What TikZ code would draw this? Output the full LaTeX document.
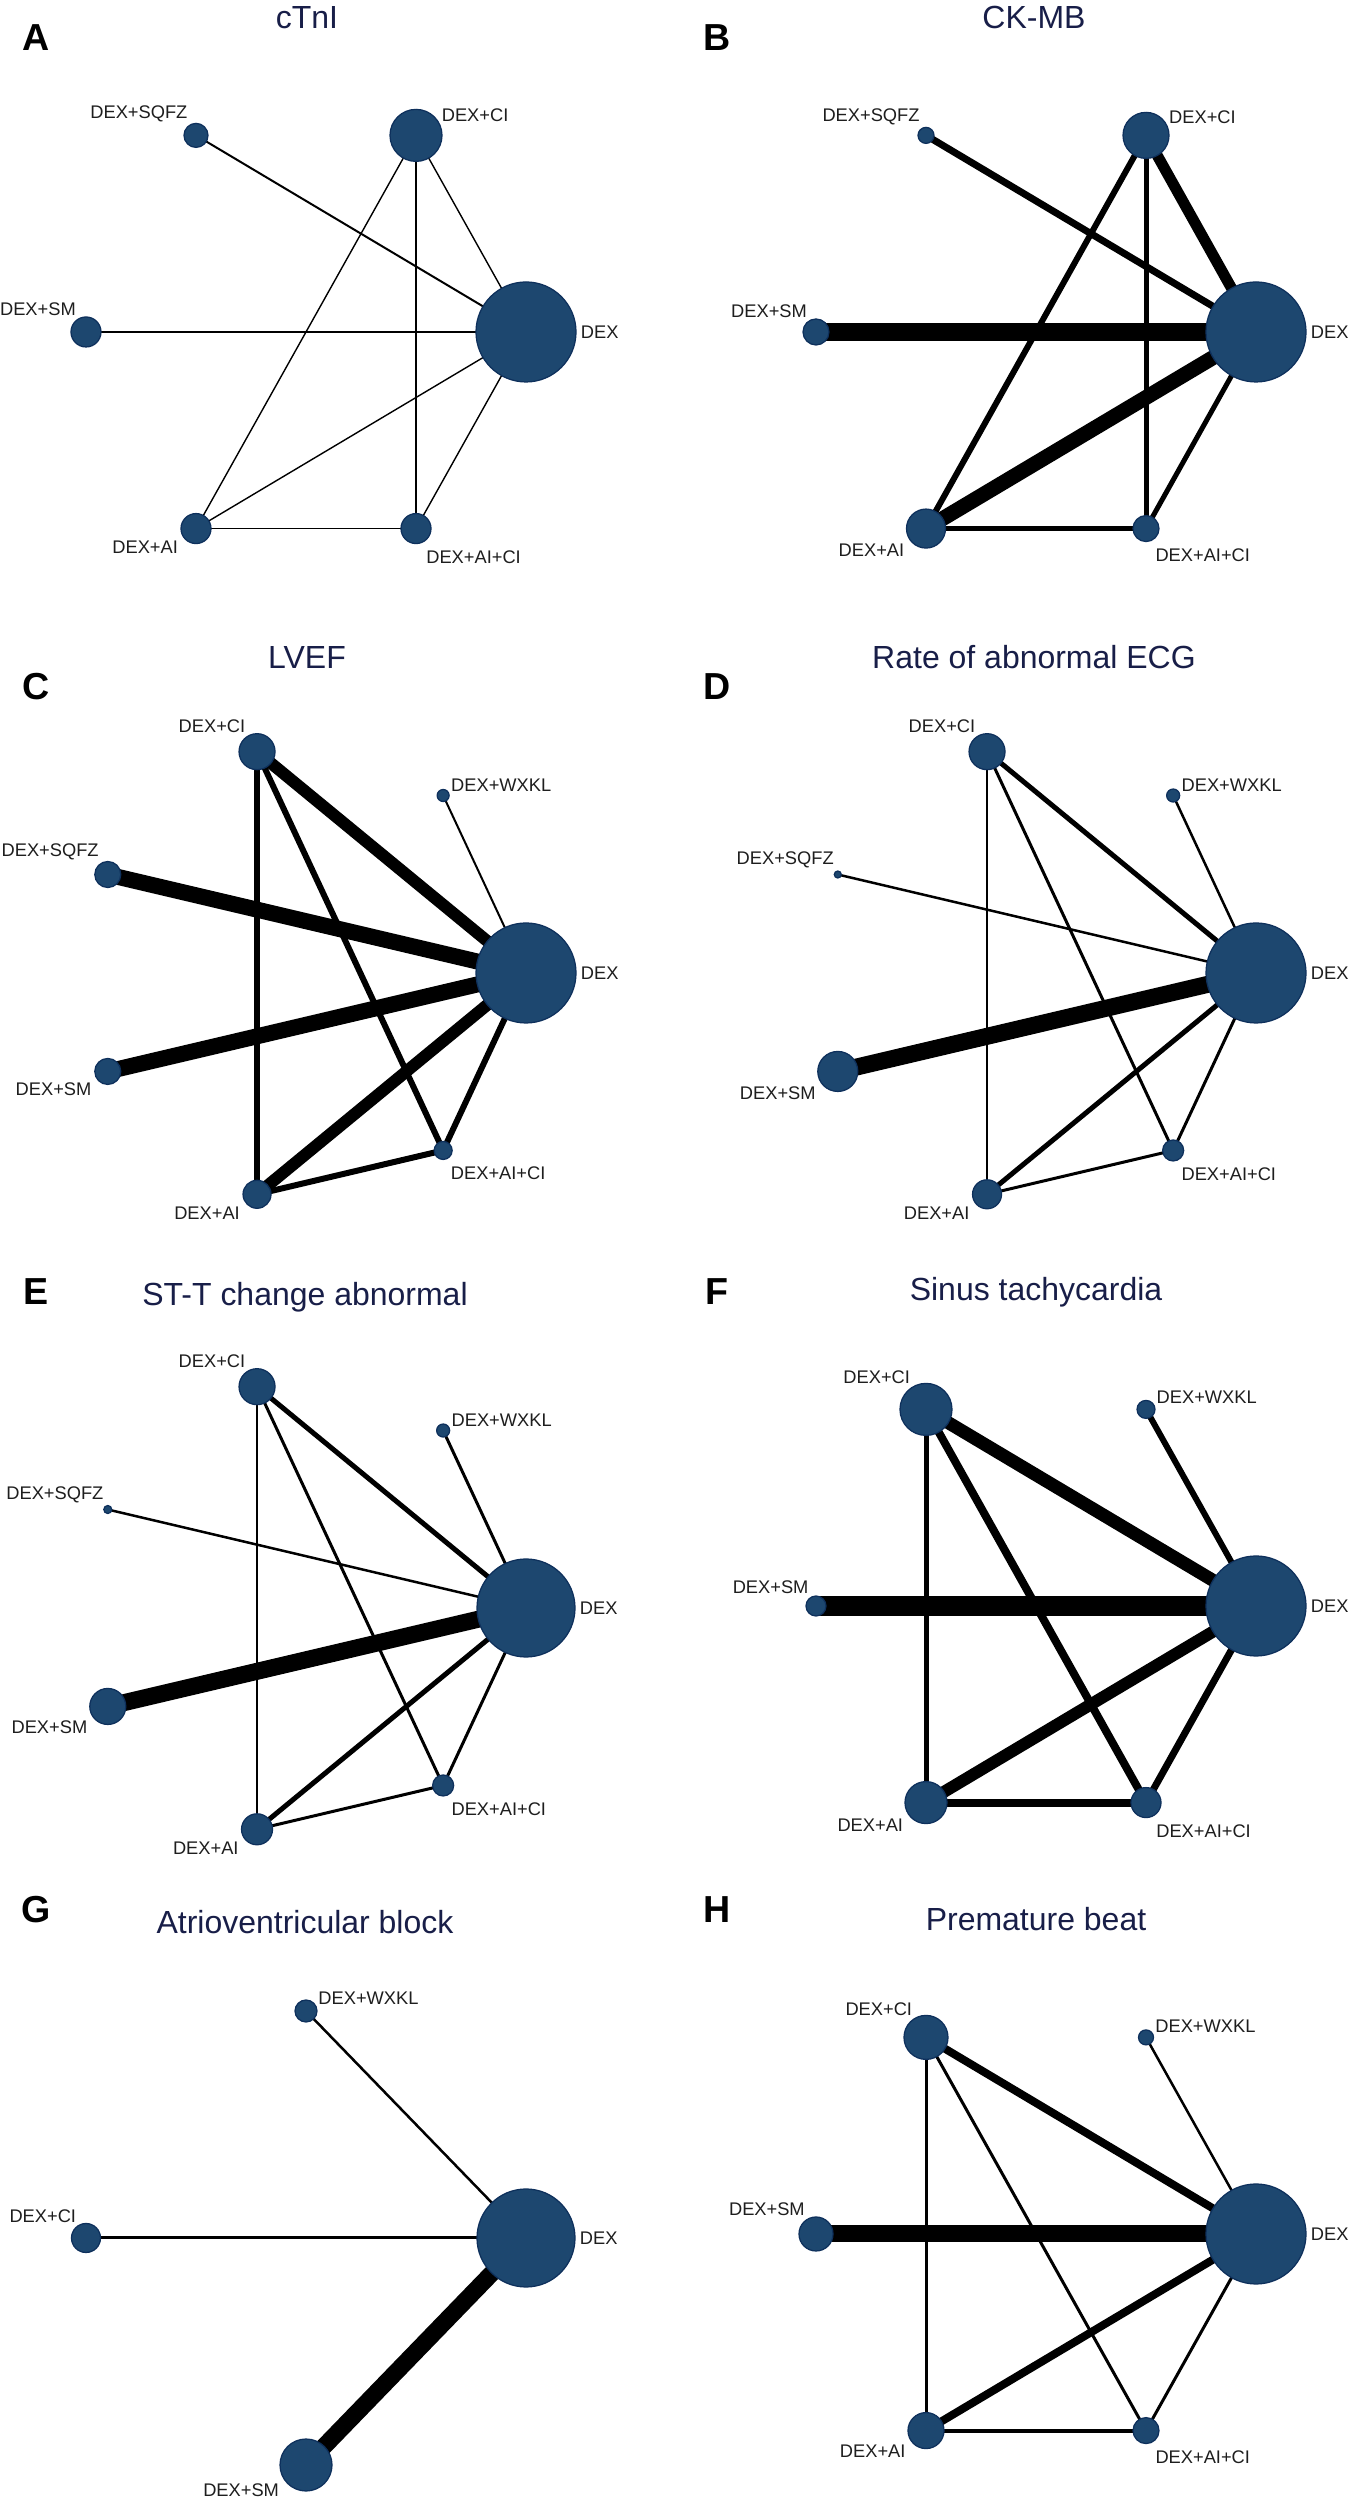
\documentclass[tikz,border=0pt]{standalone}
\usepackage{fontspec}
\setmainfont{Liberation Sans}
\usetikzlibrary{backgrounds}
\definecolor{nodefill}{RGB}{29,71,111}
\definecolor{nodeline}{RGB}{14,48,92}
\definecolor{titleblue}{RGB}{24,30,72}
\definecolor{labeltext}{RGB}{30,30,30}

\begin{document}
\begin{tikzpicture}[x=0.2mm,y=0.2mm,
	trt/.style={circle,fill=nodefill,draw=nodeline,line width=0.25mm,inner sep=0pt,minimum size=#1*0.4mm},
	lbl/.style={font=\fontsize{10.4}{12}\selectfont,text=labeltext,inner sep=0pt},
	tagE/.style={label={[lbl,anchor=west,label distance=0.8mm]0:#1}},
	tagNE/.style={label={[lbl,anchor=south west,label distance=0.4mm]27:#1}},
	tagNW/.style={label={[lbl,anchor=south east,label distance=0.6mm]122:#1}},
	tagSW/.style={label={[lbl,anchor=north east,label distance=1.2mm]215:#1}},
	tagSE/.style={label={[lbl,anchor=north west,label distance=1.6mm]295:#1}},
	ttl/.style={font=\fontsize{18.2}{22}\selectfont,text=titleblue,anchor=base},
	panel/.style={font=\fontsize{21.4}{25}\selectfont\bfseries,anchor=base},
	lw/.style={line width=#1*0.2mm},
	ring/.style={x=44mm,y=45.4mm}]
	\useasboundingbox (0,0) rectangle (1349,2500);

	% A: cTnI
	\node[panel] (lA) at (36,2449.5) {A};
	\node[ttl] (tA) at (307,2471) {cTnI};
	\begin{scope}[shift={(306,2168)},ring]
		\node[trt=50,tagE=DEX] (aDEX) at (0:1) {};
		\node[trt=26,tagNE=DEX+CI] (aCI) at (60:1) {};
		\node[trt=12,tagNW=DEX+SQFZ] (aSQFZ) at (120:1) {};
		\node[trt=15,tagNW=DEX+SM] (aSM) at (180:1) {};
		\node[trt=15,tagSW=DEX+AI] (aAI) at (240:1) {};
		\node[trt=15,tagSE=DEX+AI+CI] (aAICI) at (300:1) {};
	\end{scope}

	% B: CK-MB
	\node[panel] (lB) at (717,2449.5) {B};
	\node[ttl] (tB) at (1034,2471) {CK-MB};
	\begin{scope}[shift={(1036,2168)},ring]
		\node[trt=50,tagE=DEX] (bDEX) at (0:1) {};
		\node[trt=23,tagNE=DEX+CI] (bCI) at (60:1) {};
		\node[trt=8,tagNW=DEX+SQFZ] (bSQFZ) at (120:1) {};
		\node[trt=13,tagNW=DEX+SM] (bSM) at (180:1) {};
		\node[trt=19.5,tagSW=DEX+AI] (bAI) at (240:1) {};
		\node[trt=13,tagSE=DEX+AI+CI] (bAICI) at (300:1) {};
	\end{scope}

	% C: LVEF
	\node[panel] (lC) at (36,1800.5) {C};
	\node[ttl] (tC) at (307,1831) {LVEF};
	\begin{scope}[shift={(306,1527)},ring]
		\node[trt=50,tagE=DEX] (cDEX) at (0:1) {};
		\node[trt=6,tagNE=DEX+WXKL] (cWXKL) at (51.43:1) {};
		\node[trt=18,tagNW=DEX+CI] (cCI) at (102.86:1) {};
		\node[trt=13,tagNW=DEX+SQFZ] (cSQFZ) at (154.29:1) {};
		\node[trt=13,tagSW=DEX+SM] (cSM) at (205.71:1) {};
		\node[trt=14,tagSW=DEX+AI] (cAI) at (257.14:1) {};
		\node[trt=9,tagSE=DEX+AI+CI] (cAICI) at (308.57:1) {};
	\end{scope}

	% D: abnormal ECG
	\node[panel] (lD) at (717,1800.5) {D};
	\node[ttl] (tD) at (1034,1831) {Rate of abnormal ECG};
	\begin{scope}[shift={(1036,1527)},ring]
		\node[trt=50,tagE=DEX] (dDEX) at (0:1) {};
		\node[trt=6.5,tagNE=DEX+WXKL] (dWXKL) at (51.43:1) {};
		\node[trt=18,tagNW=DEX+CI] (dCI) at (102.86:1) {};
		\node[trt=3.5,tagNW=DEX+SQFZ] (dSQFZ) at (154.29:1) {};
		\node[trt=20,tagSW=DEX+SM] (dSM) at (205.71:1) {};
		\node[trt=14.5,tagSW=DEX+AI] (dAI) at (257.14:1) {};
		\node[trt=10.5,tagSE=DEX+AI+CI] (dAICI) at (308.57:1) {};
	\end{scope}

	% E: ST-T change
	\node[panel] (lE) at (36,1195.5) {E};
	\node[ttl] (tE) at (305,1194) {ST-T change abnormal};
	\begin{scope}[shift={(306,892)},ring]
		\node[trt=49,tagE=DEX] (eDEX) at (0:1) {};
		\node[trt=6.5,tagNE=DEX+WXKL] (eWXKL) at (51.43:1) {};
		\node[trt=18,tagNW=DEX+CI] (eCI) at (102.86:1) {};
		\node[trt=4,tagNW=DEX+SQFZ] (eSQFZ) at (154.29:1) {};
		\node[trt=18,tagSW=DEX+SM] (eSM) at (205.71:1) {};
		\node[trt=15.5,tagSW=DEX+AI] (eAI) at (257.14:1) {};
		\node[trt=10.5,tagSE=DEX+AI+CI] (eAICI) at (308.57:1) {};
	\end{scope}

	% F: sinus tachycardia
	\node[panel] (lF) at (717,1195.5) {F};
	\node[ttl] (tF) at (1036,1199) {Sinus tachycardia};
	\begin{scope}[shift={(1036,894)},ring]
		\node[trt=50,tagE=DEX] (fDEX) at (0:1) {};
		\node[trt=9,tagNE=DEX+WXKL] (fWXKL) at (60:1) {};
		\node[trt=26,tagNW=DEX+CI] (fCI) at (120:1) {};
		\node[trt=10,tagNW=DEX+SM] (fSM) at (180:1) {};
		\node[trt=21,tagSW=DEX+AI] (fAI) at (240:1) {};
		\node[trt=15,tagSE=DEX+AI+CI] (fAICI) at (300:1) {};
	\end{scope}

	% G: AV block
	\node[panel] (lG) at (36,577.5) {G};
	\node[ttl] (tG) at (305,566) {Atrioventricular block};
	\begin{scope}[shift={(306,262)},ring]
		\node[trt=49,tagE=DEX] (gDEX) at (0:1) {};
		\node[trt=11,tagNE=DEX+WXKL] (gWXKL) at (90:1) {};
		\node[trt=14.5,tagNW=DEX+CI] (gCI) at (180:1) {};
		\node[trt=26,tagSW=DEX+SM] (gSM) at (270:1) {};
	\end{scope}

	% H: premature beat
	\node[panel] (lH) at (717,577.5) {H};
	\node[ttl] (tH) at (1036,569) {Premature beat};
	\begin{scope}[shift={(1036,266)},ring]
		\node[trt=50,tagE=DEX] (hDEX) at (0:1) {};
		\node[trt=7.5,tagNE=DEX+WXKL] (hWXKL) at (60:1) {};
		\node[trt=22,tagNW=DEX+CI] (hCI) at (120:1) {};
		\node[trt=17,tagNW=DEX+SM] (hSM) at (180:1) {};
		\node[trt=18,tagSW=DEX+AI] (hAI) at (240:1) {};
		\node[trt=13,tagSE=DEX+AI+CI] (hAICI) at (300:1) {};
	\end{scope}

	% comparisons, under the nodes
	\begin{scope}[on background layer]
		\fill[white] (0,0) rectangle (1349,2500);
		\path
			(aSQFZ.center) edge[lw=2] (aDEX.center)
			(aCI.center) edge[lw=1.4] (aDEX.center)
			(aCI.center) edge[lw=1.4] (aAI.center)
			(aCI.center) edge[lw=1.4] (aAICI.center)
			(aSM.center) edge[lw=1.4] (aDEX.center)
			(aAI.center) edge[lw=1.4] (aDEX.center)
			(aAI.center) edge[lw=1.4] (aAICI.center)
			(aAICI.center) edge[lw=1.4] (aDEX.center);
		\path
			(bSQFZ.center) edge[lw=7] (bDEX.center)
			(bCI.center) edge[lw=11] (bDEX.center)
			(bCI.center) edge[lw=6] (bAI.center)
			(bCI.center) edge[lw=5] (bAICI.center)
			(bSM.center) edge[lw=18] (bDEX.center)
			(bAI.center) edge[lw=15] (bDEX.center)
			(bAI.center) edge[lw=5] (bAICI.center)
			(bAICI.center) edge[lw=5] (bDEX.center);
		\path
			(cCI.center) edge[lw=12] (cDEX.center)
			(cCI.center) edge[lw=6] (cAI.center)
			(cCI.center) edge[lw=6] (cAICI.center)
			(cWXKL.center) edge[lw=2] (cDEX.center)
			(cSQFZ.center) edge[lw=16] (cDEX.center)
			(cSM.center) edge[lw=16] (cDEX.center)
			(cAI.center) edge[lw=12] (cDEX.center)
			(cAI.center) edge[lw=6] (cAICI.center)
			(cAICI.center) edge[lw=6] (cDEX.center);
		\path
			(dCI.center) edge[lw=5] (dDEX.center)
			(dCI.center) edge[lw=2] (dAI.center)
			(dCI.center) edge[lw=3] (dAICI.center)
			(dWXKL.center) edge[lw=2.5] (dDEX.center)
			(dSQFZ.center) edge[lw=2.5] (dDEX.center)
			(dSM.center) edge[lw=17] (dDEX.center)
			(dAI.center) edge[lw=5] (dDEX.center)
			(dAI.center) edge[lw=3] (dAICI.center)
			(dAICI.center) edge[lw=3] (dDEX.center);
		\path
			(eCI.center) edge[lw=5] (eDEX.center)
			(eCI.center) edge[lw=2] (eAI.center)
			(eCI.center) edge[lw=3] (eAICI.center)
			(eWXKL.center) edge[lw=3] (eDEX.center)
			(eSQFZ.center) edge[lw=2.5] (eDEX.center)
			(eSM.center) edge[lw=17] (eDEX.center)
			(eAI.center) edge[lw=5] (eDEX.center)
			(eAI.center) edge[lw=3] (eAICI.center)
			(eAICI.center) edge[lw=3] (eDEX.center);
		\path
			(fCI.center) edge[lw=13] (fDEX.center)
			(fWXKL.center) edge[lw=6] (fDEX.center)
			(fCI.center) edge[lw=5] (fAI.center)
			(fCI.center) edge[lw=8] (fAICI.center)
			(fSM.center) edge[lw=20] (fDEX.center)
			(fAI.center) edge[lw=12] (fDEX.center)
			(fAI.center) edge[lw=8] (fAICI.center)
			(fAICI.center) edge[lw=7] (fDEX.center);
		\path
			(gWXKL.center) edge[lw=2.5] (gDEX.center)
			(gCI.center) edge[lw=3] (gDEX.center)
			(gSM.center) edge[lw=17] (gDEX.center);
		\path
			(hCI.center) edge[lw=8] (hDEX.center)
			(hWXKL.center) edge[lw=2.5] (hDEX.center)
			(hCI.center) edge[lw=3] (hAI.center)
			(hCI.center) edge[lw=3] (hAICI.center)
			(hSM.center) edge[lw=17] (hDEX.center)
			(hAI.center) edge[lw=8] (hDEX.center)
			(hAI.center) edge[lw=4] (hAICI.center)
			(hAICI.center) edge[lw=3] (hDEX.center);
	\end{scope}
\end{tikzpicture}
\end{document}
